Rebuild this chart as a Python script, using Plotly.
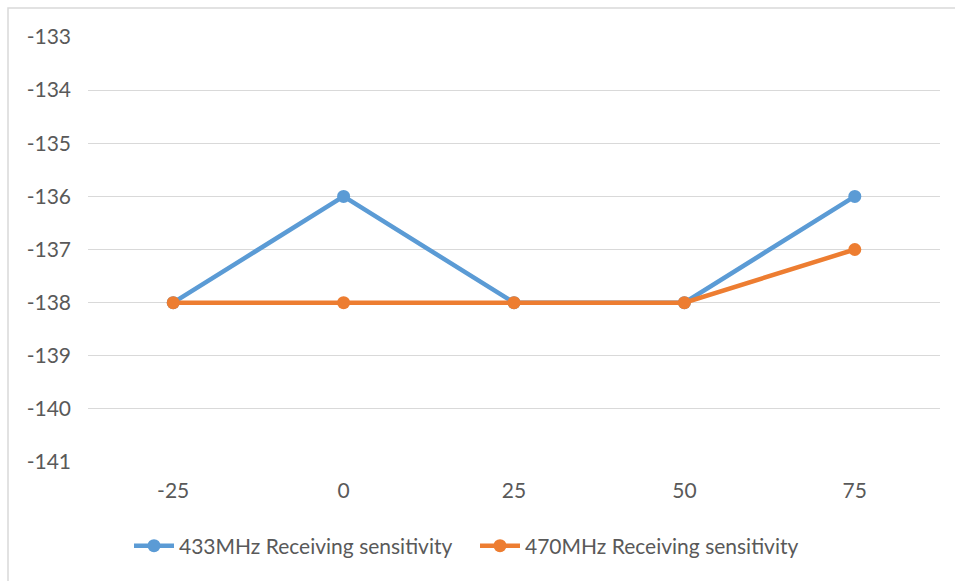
import plotly.graph_objects as go

categories = ["-25", "0", "25", "50", "75"]
sens_433 = [-138, -136, -138, -138, -136]
sens_470 = [-138, -138, -138, -138, -137]
series_names = ["433MHz Receiving sensitivity", "470MHz Receiving sensitivity"]
y_ticks = [-141, -140, -139, -138, -137, -136, -135, -134, -133]
y_tick_text = ["-141", "-140", "-139", "-138", "-137", "-136", "-135", "-134", "-133"]

W, H = 955, 581
L, R, T, B = 88, 15, 37, 119
pw, ph = W - L - R, H - T - B

font_family = "Lato, 'Open Sans', sans-serif"
txt = "#595959"
fsize = 21

fig = go.Figure()
for name, vals, col in [(series_names[0], sens_433, "#5B9BD5"),
                        (series_names[1], sens_470, "#ED7D31")]:
    fig.add_trace(go.Scatter(
        x=categories, y=vals, name=name, mode="lines+markers",
        line=dict(color=col, width=4.5),
        marker=dict(color=col, size=13),
    ))

def px_x(p):
    return (p - L) / pw

def px_y(p):
    return (H - B - p) / ph

fig.update_layout(
    width=W, height=H,
    margin=dict(l=L, r=R, t=T, b=B),
    paper_bgcolor="white", plot_bgcolor="white",
    font=dict(family=font_family, size=fsize, color=txt),
    showlegend=True,
    legend=dict(orientation="h", x=px_x(475), xanchor="center",
                y=px_y(546), yanchor="middle",
                font=dict(family=font_family, size=fsize, color=txt),
                itemwidth=40, tracegroupgap=0, entrywidth=291,
                entrywidthmode="pixels"),
    xaxis=dict(type="category", range=[-0.5, 4.5], showgrid=False,
               showline=False, zeroline=False, ticks="",
               ticklabelstandoff=14,
               tickfont=dict(family=font_family, size=fsize, color=txt)),
    yaxis=dict(range=[-141, -133], tickvals=y_ticks, ticktext=y_tick_text,
               showgrid=True, gridcolor="#D9D9D9", gridwidth=1,
               zeroline=False, showline=False, ticks="",
               ticklabelstandoff=16,
               tickfont=dict(family=font_family, size=fsize, color=txt)),
    shapes=[dict(type="rect", xref="paper", yref="paper",
                 x0=px_x(8), x1=px_x(970), y0=px_y(600), y1=px_y(8),
                 line=dict(color="#D9D9D9", width=1.5), layer="below")],
)

fig.write_html("out.html", config={"displayModeBar": False},
               post_script="document.body.style.margin='0';document.body.style.overflow='hidden';")
